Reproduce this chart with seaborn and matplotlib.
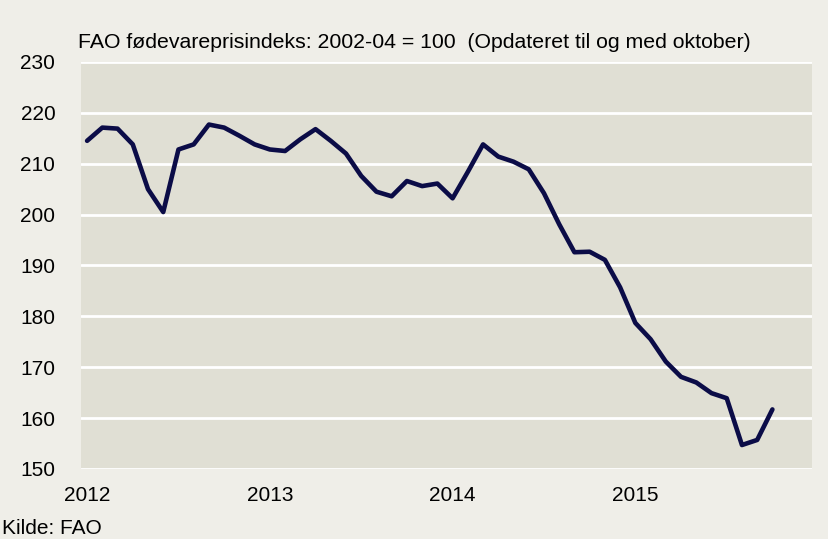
import pandas as pd
import matplotlib
matplotlib.use('Agg')
import matplotlib.pyplot as plt
import seaborn as sns

# FAO fødevareprisindeks, månedlig jan 2012 - okt 2015
months = pd.date_range('2012-01-01', '2015-10-01', freq='MS')
index_values = [
    214.5, 217.1, 216.9, 213.8, 205.0, 200.5, 212.8, 213.8, 217.7, 217.1, 215.5, 213.8,
    212.8, 212.5, 214.8, 216.8, 214.5, 212.0, 207.6, 204.5, 203.6, 206.6, 205.6, 206.1,
    203.2, 208.4, 213.8, 211.4, 210.4, 208.9, 204.2, 198.1, 192.6, 192.7, 191.1, 185.7,
    178.7, 175.5, 171.1, 168.1, 167.0, 164.9, 163.9, 154.7, 155.7, 161.7,
]
year_labels = ['2012', '2013', '2014', '2015']
y_ticks = [150, 160, 170, 180, 190, 200, 210, 220, 230]

df = pd.DataFrame({'maaned': range(len(months)), 'indeks': index_values})

sns.set_style("whitegrid", {
    'axes.facecolor': '#e0dfd4',
    'figure.facecolor': '#efeee8',
    'grid.color': 'white',
    'axes.edgecolor': '#e0dfd4',
})
plt.rcParams['font.family'] = ['Liberation Sans', 'DejaVu Sans']

fig = plt.figure(figsize=(8.29, 5.39), dpi=100)
ax = fig.add_axes([0.0977, 0.130, 0.8818, 0.755])

sns.lineplot(x='maaned', y='indeks', data=df, color='#0b0c47', linewidth=3.3, ax=ax)

ax.set_ylim(150, 230)
ax.set_yticks(y_ticks)
ax.set_xlim(-0.4, 47.6)
ax.set_xticks([0, 12, 24, 36])
ax.set_xticklabels(year_labels)
ax.grid(axis='y', color='white', linewidth=2)
ax.grid(axis='x', visible=False)
for s in ax.spines.values():
    s.set_visible(False)
ax.tick_params(axis='y', length=0, pad=18.5, labelsize=15, colors='black')
ax.tick_params(axis='x', length=0, pad=12.5, labelsize=15, colors='black')
ax.set_xlabel('')
ax.set_ylabel('')

fig.text(78 / 829, 1 - 42 / 539, 'FAO fødevareprisindeks: 2002-04 = 100  (Opdateret til og med oktober)',
         fontsize=15.3, ha='left', va='center', color='black')
fig.text(2 / 829, 1 - 528 / 539, 'Kilde: FAO', fontsize=15, ha='left', va='center', color='black')

fig.savefig('out.png', dpi=100, facecolor=fig.get_facecolor())
